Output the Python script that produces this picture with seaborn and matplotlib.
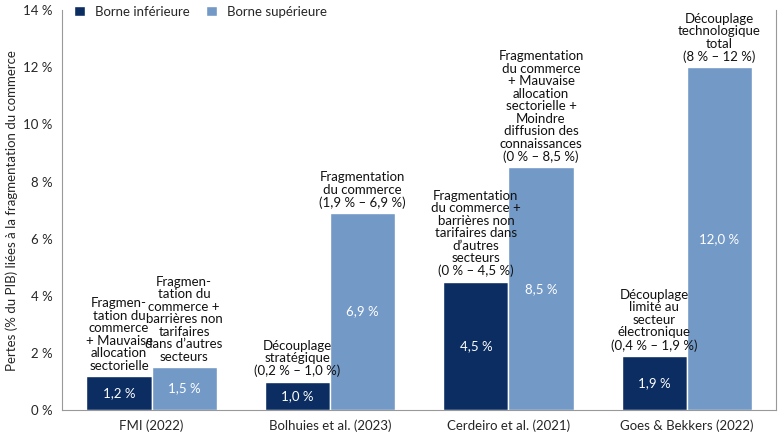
import matplotlib
matplotlib.use("Agg")
import matplotlib.pyplot as plt
import seaborn as sns
import pandas as pd

etudes = ["FMI (2022)", "Bolhuies et al. (2023)", "Cerdeiro et al. (2021)", "Goes & Bekkers (2022)"]
borne_inf = [1.2, 1.0, 4.5, 1.9]
borne_sup = [1.5, 6.9, 8.5, 12.0]
txt_inf = ["Fragmen-\ntation du\ncommerce\n+ Mauvaise\nallocation\nsectorielle",
           "Découplage\nstratégique\n(0,2 % – 1,0 %)",
           "Fragmentation\ndu commerce +\nbarrières non\ntarifaires dans\nd’autres\nsecteurs\n(0 % – 4,5 %)",
           "Découplage\nlimité au\nsecteur\nélectronique\n(0,4 % – 1,9 %)"]
txt_sup = ["Fragmen-\ntation du\ncommerce +\nbarrières non\ntarifaires\ndans d’autres\nsecteurs",
           "Fragmentation\ndu commerce\n(1,9 % – 6,9 %)",
           "Fragmentation\ndu commerce\n+ Mauvaise\nallocation\nsectorielle +\nMoindre\ndiffusion des\nconnaissances\n(0 % – 8,5 %)",
           "Découplage\ntechnologique\ntotal\n(8 % – 12 %)"]

df = pd.DataFrame({
    "etude": etudes * 2,
    "valeur": borne_inf + borne_sup,
    "borne": ["Borne inférieure"] * 4 + ["Borne supérieure"] * 4,
})

sns.set_style("white")
plt.rcParams["font.family"] = ["Lato", "DejaVu Sans"]
fig, ax = plt.subplots(figsize=(7.8, 4.4), dpi=100)
sns.barplot(data=df, x="etude", y="valeur", hue="borne",
            palette=["#0b2d62", "#7399c7"], width=0.73, ax=ax, saturation=1)

w = 0.73 / 2
for i in range(4):
    for off, v, t in [(-w / 2, borne_inf[i], txt_inf[i]), (w / 2, borne_sup[i], txt_sup[i])]:
        ax.text(i + off, v / 2, f"{v:.1f} %".replace(".", ","), ha="center", va="center",
                color="white", fontsize=9.5)
        ax.text(i + off, v + 0.15, t, ha="center", va="bottom", fontsize=9.5,
                linespacing=1.05, color="#111111")

ax.set_ylim(0, 14)
ax.set_xlim(-0.5, 3.5)
ax.set_yticks(range(0, 15, 2))
ax.set_yticklabels([f"{t} %" for t in range(0, 15, 2)], fontsize=9.5)
ax.tick_params(axis="x", labelsize=9.5)
ax.set_xlabel("")
ax.set_ylabel("Pertes (% du PIB) liées à la fragmentation du commerce", fontsize=9.5)
for s in ax.spines.values():
    s.set_color("#999999")
ax.spines["top"].set_visible(False)
ax.legend(loc="upper left", bbox_to_anchor=(0.0, 1.04), ncol=2, frameon=False,
          fontsize=9.5, handlelength=0.8, handleheight=0.8, columnspacing=1.2)
plt.subplots_adjust(left=0.08, right=0.995, top=0.977, bottom=0.068)
plt.savefig("out.png", dpi=100)
